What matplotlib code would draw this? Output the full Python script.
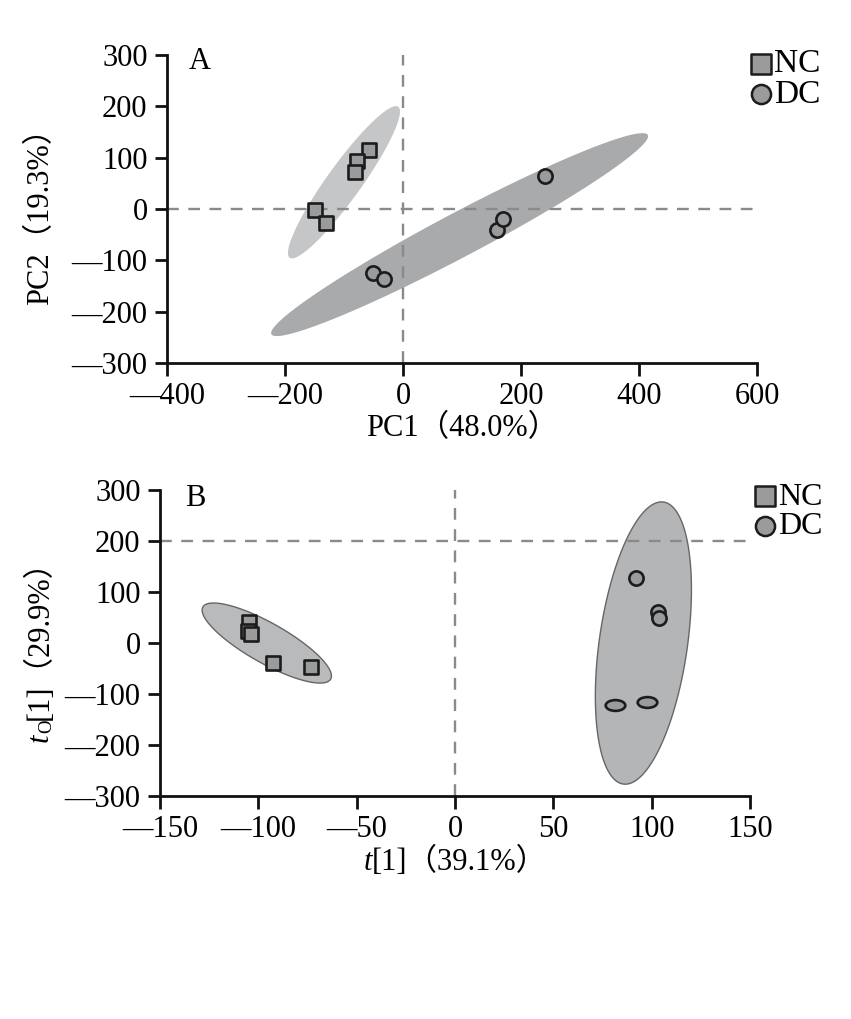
import numpy as np
import matplotlib
matplotlib.use("Agg")
import matplotlib.pyplot as plt
from matplotlib.path import Path

# ---------------- data ----------------
# Panel A (PCA)
a_nc_x = [-58, -78, -81, -149, -130]
a_nc_y = [115, 94, 72, -2, -27]
a_dc_x = [-51, -32, 159, 169, 240]
a_dc_y = [-125, -137, -41, -19, 64]
# confidence ellipses: center, semi-major vector, semi-minor vector (data units)
a_nc_ell = [(-100, 52), (92, 147), (23.5, -19.5)]
a_dc_ell = [(96, -50), (319, 194), (17.5, -37.8)]
a_xticks = [-400, -200, 0, 200, 400, 600]
a_yticks = [-300, -200, -100, 0, 100, 200, 300]
a_xlabel = "PC1（48.0%）"
a_ylabel = "PC2（19.3%）"

# Panel B (OPLS-DA)
b_nc_x = [-104.7, -105.5, -103.5, -92.3, -73]
b_nc_y = [41.8, 24, 17.6, -40, -46]
b_dc_x = [92.2, 103.4, 103.7]
b_dc_y = [128, 60, 50]
b_dc_flat_x = [81.3, 97.8]
b_dc_flat_y = [-121.6, -116]
b_nc_ell = [(-95.7, 0), (32.5, -70.6), (5.0, 34.3)]
b_dc_ell = [(95.8, 0), (10.2, 276.5), (22.2, -12.1)]
b_xticks = [-150, -100, -50, 0, 50, 100, 150]
b_yticks = [-300, -200, -100, 0, 100, 200, 300]

groups = ["NC", "DC"]

# ---------------- style ----------------
SERIF = ["Liberation Serif", "Noto Sans CJK SC", "DejaVu Serif"]
plt.rcParams['font.family'] = SERIF
FS = 22
MFILL = "#9a9b9d"
MEDGE = "#1c1c1c"
DASH = "#8a8a8a"
MS = 105


def tick_fmt(v):
    v = int(v)
    return "—" + str(-v) if v < 0 else str(v)


def ellipse_xy(ell, n=200):
    (cx, cy), (ax_, ay_), (bx_, by_) = ell
    t = np.linspace(0, 2 * np.pi, n)
    x = cx + ax_ * np.cos(t) + bx_ * np.sin(t)
    y = cy + ay_ * np.cos(t) + by_ * np.sin(t)
    return x, y


def style_axes(ax, xticks, yticks):
    for s in ["top", "right"]:
        ax.spines[s].set_visible(False)
    for s in ["left", "bottom"]:
        ax.spines[s].set_linewidth(2.0)
        ax.spines[s].set_color("#111111")
    ax.set_xticks(xticks)
    ax.set_yticks(yticks)
    ax.set_xticklabels([tick_fmt(v) for v in xticks], fontsize=FS)
    ax.set_yticklabels([tick_fmt(v) for v in yticks], fontsize=FS)
    ax.tick_params(direction="out", length=9, width=2.0, color="#111111", pad=5)
    ax.set_xlim(xticks[0], xticks[-1])
    ax.set_ylim(yticks[0], yticks[-1])


fig = plt.figure(figsize=(8.51, 10.19), dpi=100)

# ---------------- Panel A ----------------
axA = fig.add_axes([0.1962, 0.6438, 0.6933, 0.3023])
style_axes(axA, a_xticks, a_yticks)
x, y = ellipse_xy(a_nc_ell)
axA.fill(x, y, color="#c5c6c8", lw=0, zorder=1)
x, y = ellipse_xy(a_dc_ell)
axA.fill(x, y, color="#a9aaac", lw=0, zorder=1)
axA.axhline(0, color=DASH, ls=(0, (5, 4)), lw=1.7, zorder=2)
axA.axvline(0, color=DASH, ls=(0, (5, 4)), lw=1.7, zorder=2)
axA.scatter(a_nc_x, a_nc_y, marker="s", s=MS, facecolor=MFILL, edgecolor=MEDGE, linewidth=1.9, zorder=3)
axA.scatter(a_dc_x, a_dc_y, marker="o", s=MS, facecolor=MFILL, edgecolor=MEDGE, linewidth=1.9, zorder=3)
axA.text(0.056, 1.025, "A", transform=axA.transAxes, fontsize=FS, ha="center", va="top")
axA.set_xlabel(a_xlabel, fontsize=FS, labelpad=2)
axA.set_ylabel(a_ylabel, fontsize=FS, labelpad=12)

hA = [axA.scatter([], [], marker="s", s=190, facecolor=MFILL, edgecolor=MEDGE, linewidth=1.8),
      axA.scatter([], [], marker="o", s=190, facecolor=MFILL, edgecolor=MEDGE, linewidth=1.8)]
axA.legend(hA, groups, loc="upper left", bbox_to_anchor=(0.97, 1.02), frameon=False,
           fontsize=FS + 2, handletextpad=-0.25, labelspacing=0.0, borderaxespad=0,
           handlelength=1.3, borderpad=0)

# ---------------- Panel B ----------------
axB = fig.add_axes([0.188, 0.2188, 0.6933, 0.3003])
style_axes(axB, b_xticks, b_yticks)
x, y = ellipse_xy(b_nc_ell)
axB.fill(x, y, facecolor="#b9babc", edgecolor="#666666", lw=1.0, zorder=1)
x, y = ellipse_xy(b_dc_ell)
axB.fill(x, y, facecolor="#b4b5b7", edgecolor="#666666", lw=1.0, zorder=1)
axB.axhline(200, color=DASH, ls=(0, (5, 4)), lw=1.7, zorder=2)
axB.axvline(0, color=DASH, ls=(0, (5, 4)), lw=1.7, zorder=2)
axB.scatter(b_nc_x, b_nc_y, marker="s", s=MS, facecolor=MFILL, edgecolor=MEDGE, linewidth=1.9, zorder=3)
axB.scatter(b_dc_x, b_dc_y, marker="o", s=MS, facecolor=MFILL, edgecolor=MEDGE, linewidth=1.9, zorder=3)
circ = Path.unit_circle()
flat = Path(circ.vertices * np.array([1.0, 0.55]), circ.codes)
axB.scatter(b_dc_flat_x, b_dc_flat_y, marker=flat, s=200, facecolor=MFILL, edgecolor=MEDGE, linewidth=1.9, zorder=3)
axB.text(0.059, 1.02, "B", transform=axB.transAxes, fontsize=FS, ha="center", va="top")

hB = [axB.scatter([], [], marker="s", s=190, facecolor=MFILL, edgecolor=MEDGE, linewidth=1.8),
      axB.scatter([], [], marker="o", s=190, facecolor=MFILL, edgecolor=MEDGE, linewidth=1.8)]
axB.legend(hB, groups, loc="upper left", bbox_to_anchor=(0.99, 1.025), frameon=False,
           fontsize=FS + 1, handletextpad=-0.25, labelspacing=0.0, borderaxespad=0,
           handlelength=1.3, borderpad=0)

# composite labels for panel B (italic t, subscript o)
renderer = fig.canvas.get_renderer()


def composite(pieces, center_px, rotation):
    """pieces: list of (text, kwargs, baseline_shift_px). center_px: display coords of label centre."""
    widths = []
    for txt, kw, _ in pieces:
        t = fig.text(0, 0, txt, **kw)
        widths.append(t.get_window_extent(renderer).width)
        t.remove()
    total = sum(widths)
    if rotation == 0:
        along = np.array([1.0, 0.0]); down = np.array([0.0, -1.0])
    else:
        along = np.array([0.0, 1.0]); down = np.array([1.0, 0.0])
    start = np.array(center_px) - along * total / 2
    pos = 0.0
    for (txt, kw, shift), w in zip(pieces, widths):
        p = start + along * pos + down * shift
        fx, fy = fig.transFigure.inverted().transform(p)
        fig.text(fx, fy, txt, rotation=rotation, rotation_mode="anchor",
                 ha="left", va="center", **kw)
        pos += w


H = 1019
composite([("t", dict(fontsize=FS, style="italic", family=SERIF), 0),
           ("[1]（39.1%）", dict(fontsize=FS, family=SERIF), 0)],
          (455, H - 862), 0)
composite([("t", dict(fontsize=FS, style="italic", family=SERIF), 0),
           ("O", dict(fontsize=FS * 0.62, family=SERIF), 7),
           ("[1]（29.9%）", dict(fontsize=FS, family=SERIF), 0)],
          (40, H - 643), 90)

fig.savefig("out.png", dpi=100)
